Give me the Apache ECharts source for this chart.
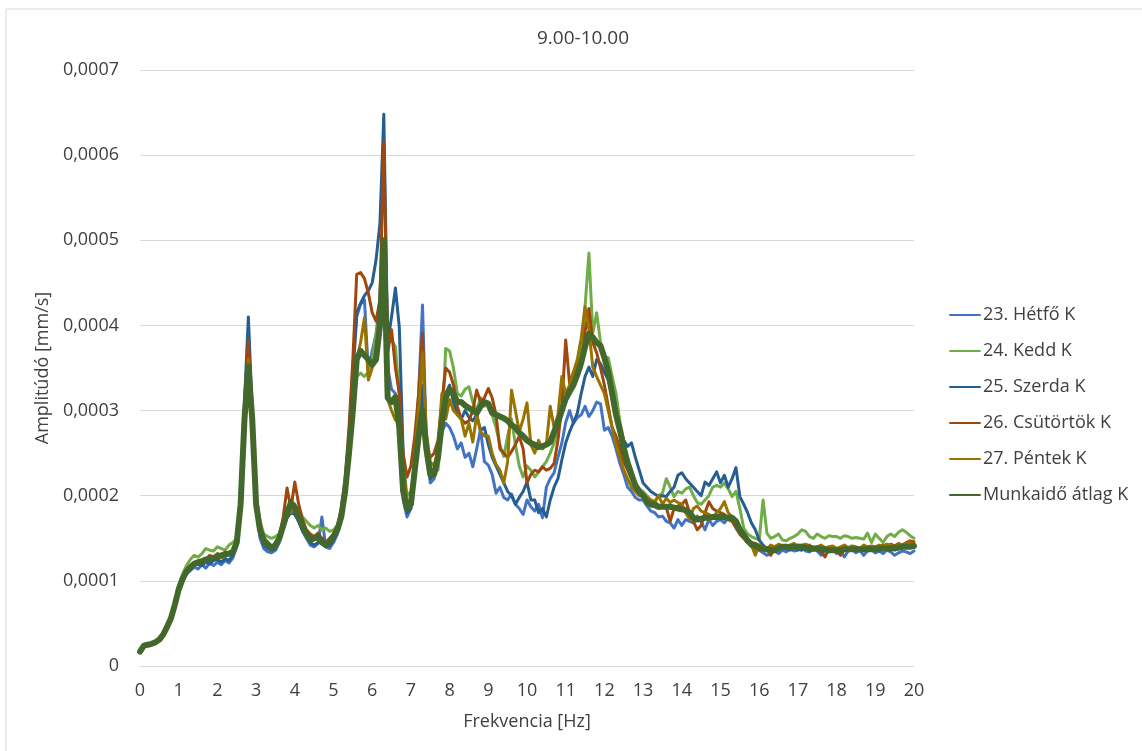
<!DOCTYPE html>
<html>
<head>
<meta charset="utf-8">
<title>9.00-10.00</title>
<script src="https://cdn.jsdelivr.net/npm/echarts@6/dist/echarts.min.js"></script>
<style>
    html, body {margin: 0; padding: 0; background: #fff;}
    #main {width: 1142px; height: 751px;}
</style>
</head>
<body>
<div id="main"></div>
<script>
//frekvencia [Hz], 0.1 lepes
var freq = [
    0, 0.1, 0.2, 0.3, 0.4, 0.5, 0.6, 0.7, 0.8, 0.9,
    1, 1.1, 1.2, 1.3, 1.4, 1.5, 1.6, 1.7, 1.8, 1.9,
    2, 2.1, 2.2, 2.3, 2.4, 2.5, 2.6, 2.7, 2.8, 2.9,
    3, 3.1, 3.2, 3.3, 3.4, 3.5, 3.6, 3.7, 3.8, 3.9,
    4, 4.1, 4.2, 4.3, 4.4, 4.5, 4.6, 4.7, 4.8, 4.9,
    5, 5.1, 5.2, 5.3, 5.4, 5.5, 5.6, 5.7, 5.8, 5.9,
    6, 6.1, 6.2, 6.3, 6.4, 6.5, 6.6, 6.7, 6.8, 6.9,
    7, 7.1, 7.2, 7.3, 7.4, 7.5, 7.6, 7.7, 7.8, 7.9,
    8, 8.1, 8.2, 8.3, 8.4, 8.5, 8.6, 8.7, 8.8, 8.9,
    9, 9.1, 9.2, 9.3, 9.4, 9.5, 9.6, 9.7, 9.8, 9.9,
    10, 10.1, 10.2, 10.3, 10.4, 10.5, 10.6, 10.7, 10.8, 10.9,
    11, 11.1, 11.2, 11.3, 11.4, 11.5, 11.6, 11.7, 11.8, 11.9,
    12, 12.1, 12.2, 12.3, 12.4, 12.5, 12.6, 12.7, 12.8, 12.9,
    13, 13.1, 13.2, 13.3, 13.4, 13.5, 13.6, 13.7, 13.8, 13.9,
    14, 14.1, 14.2, 14.3, 14.4, 14.5, 14.6, 14.7, 14.8, 14.9,
    15, 15.1, 15.2, 15.3, 15.4, 15.5, 15.6, 15.7, 15.8, 15.9,
    16, 16.1, 16.2, 16.3, 16.4, 16.5, 16.6, 16.7, 16.8, 16.9,
    17, 17.1, 17.2, 17.3, 17.4, 17.5, 17.6, 17.7, 17.8, 17.9,
    18, 18.1, 18.2, 18.3, 18.4, 18.5, 18.6, 18.7, 18.8, 18.9,
    19, 19.1, 19.2, 19.3, 19.4, 19.5, 19.6, 19.7, 19.8, 19.9,
    20
];

//amplitudo, 0,0001 mm/s egysegben
var hetfo = [
    0.17, 0.24, 0.25, 0.26, 0.28, 0.31, 0.37, 0.46, 0.56, 0.72,
    0.88, 1.00, 1.08, 1.12, 1.16, 1.14, 1.19, 1.15, 1.21, 1.18,
    1.22, 1.19, 1.24, 1.21, 1.27, 1.40, 1.85, 2.95, 3.62, 2.85,
    1.85, 1.50, 1.38, 1.34, 1.33, 1.36, 1.45, 1.62, 1.78, 1.86,
    1.80, 1.70, 1.58, 1.50, 1.42, 1.40, 1.44, 1.75, 1.40, 1.38,
    1.45, 1.55, 1.72, 2.05, 2.60, 3.40, 4.10, 4.25, 4.30, 3.45,
    3.70, 3.90, 4.30, 4.75, 3.50, 3.25, 3.20, 2.70, 1.95, 1.75,
    1.85, 2.40, 3.20, 4.24, 2.60, 2.15, 2.20, 2.40, 2.75, 2.85,
    2.80, 2.70, 2.55, 2.62, 2.45, 2.50, 2.34, 2.55, 2.78, 2.40,
    2.36, 2.25, 2.03, 2.10, 1.98, 1.95, 2.02, 1.90, 1.85, 1.78,
    1.95, 1.87, 1.82, 1.90, 1.74, 2.10, 2.20, 2.27, 2.45, 2.62,
    2.86, 3.00, 2.85, 2.92, 2.95, 3.05, 2.93, 3.00, 3.10, 3.08,
    2.77, 2.80, 2.70, 2.55, 2.38, 2.25, 2.10, 2.05, 1.98, 1.95,
    1.95, 1.88, 1.82, 1.80, 1.75, 1.76, 1.70, 1.68, 1.62, 1.72,
    1.65, 1.72, 1.70, 1.68, 1.76, 1.70, 1.60, 1.72, 1.65, 1.70,
    1.72, 1.68, 1.74, 1.70, 1.65, 1.55, 1.50, 1.45, 1.40, 1.37,
    1.36, 1.33, 1.30, 1.32, 1.35, 1.32, 1.36, 1.34, 1.38, 1.35,
    1.36, 1.40, 1.35, 1.34, 1.38, 1.35, 1.30, 1.36, 1.34, 1.38,
    1.32, 1.36, 1.28, 1.35, 1.37, 1.33, 1.36, 1.30, 1.35, 1.37,
    1.33, 1.35, 1.32, 1.36, 1.34, 1.30, 1.33, 1.35, 1.34, 1.32,
    1.35
];
var kedd = [
    0.17, 0.24, 0.25, 0.26, 0.28, 0.31, 0.37, 0.47, 0.58, 0.75,
    0.95, 1.08, 1.18, 1.25, 1.30, 1.28, 1.32, 1.38, 1.36, 1.35,
    1.40, 1.38, 1.36, 1.42, 1.45, 1.50, 1.90, 2.85, 3.40, 2.90,
    2.00, 1.70, 1.55, 1.52, 1.50, 1.52, 1.55, 1.70, 1.82, 1.90,
    1.88, 1.85, 1.75, 1.70, 1.65, 1.62, 1.65, 1.60, 1.62, 1.58,
    1.60, 1.65, 1.78, 2.10, 2.55, 3.00, 3.40, 3.44, 3.40, 3.45,
    3.60, 3.90, 4.10, 4.40, 3.80, 3.83, 3.75, 3.20, 2.40, 2.00,
    2.05, 2.30, 2.80, 3.20, 2.45, 2.25, 2.28, 2.30, 2.80, 3.73,
    3.70, 3.50, 3.20, 3.17, 3.25, 3.28, 3.10, 3.00, 3.15, 3.05,
    3.10, 2.95, 2.80, 2.60, 2.46, 2.70, 2.90, 2.60, 2.35, 2.22,
    2.35, 2.30, 2.22, 2.28, 2.34, 2.40, 2.50, 2.62, 2.80, 3.00,
    3.10, 3.20, 3.36, 3.50, 3.71, 4.22, 4.85, 3.91, 4.15, 3.80,
    3.63, 3.62, 3.40, 3.20, 2.87, 2.65, 2.45, 2.30, 2.15, 2.08,
    2.05, 2.00, 1.95, 1.92, 2.00, 2.03, 2.20, 2.10, 1.99, 2.05,
    2.03, 2.08, 2.10, 2.00, 1.92, 1.90, 1.95, 2.00, 2.10, 2.12,
    2.10, 2.15, 2.08, 1.99, 2.05, 1.85, 1.62, 1.55, 1.52, 1.50,
    1.48, 1.95, 1.56, 1.50, 1.52, 1.55, 1.48, 1.47, 1.50, 1.52,
    1.55, 1.60, 1.58, 1.52, 1.50, 1.55, 1.52, 1.50, 1.53, 1.52,
    1.52, 1.50, 1.53, 1.52, 1.50, 1.51, 1.50, 1.49, 1.56, 1.45,
    1.55, 1.50, 1.45, 1.52, 1.55, 1.52, 1.57, 1.60, 1.57, 1.53,
    1.50
];
var szerda = [
    0.17, 0.24, 0.25, 0.26, 0.28, 0.31, 0.37, 0.46, 0.56, 0.72,
    0.90, 1.03, 1.10, 1.15, 1.18, 1.20, 1.18, 1.22, 1.20, 1.24,
    1.25, 1.22, 1.26, 1.24, 1.30, 1.45, 1.95, 3.10, 4.10, 3.00,
    1.95, 1.55, 1.42, 1.38, 1.36, 1.38, 1.48, 1.62, 1.74, 1.80,
    1.78, 1.70, 1.60, 1.52, 1.45, 1.42, 1.45, 1.50, 1.40, 1.42,
    1.48, 1.58, 1.75, 2.10, 2.70, 3.50, 4.15, 4.26, 4.35, 4.41,
    4.50, 4.77, 5.20, 6.48, 3.80, 4.10, 4.44, 3.98, 2.50, 1.80,
    1.85, 2.25, 2.75, 3.30, 2.55, 2.20, 2.25, 2.40, 2.90, 3.20,
    3.30, 3.10, 2.95, 2.90, 3.00, 2.92, 2.88, 2.95, 2.77, 2.80,
    2.60, 2.45, 2.35, 2.25, 2.15, 2.05, 2.00, 1.90, 1.98, 2.05,
    2.16, 1.95, 1.95, 1.80, 1.85, 1.75, 1.95, 2.10, 2.20, 2.42,
    2.62, 2.75, 2.86, 2.97, 3.20, 3.40, 3.51, 3.40, 3.60, 3.55,
    3.45, 3.36, 3.20, 3.00, 2.80, 2.65, 2.58, 2.62, 2.45, 2.30,
    2.15, 2.10, 2.05, 2.02, 1.99, 2.00, 1.99, 2.05, 2.10, 2.24,
    2.27, 2.20, 2.15, 2.10, 2.05, 2.00, 2.16, 2.12, 2.20, 2.28,
    2.15, 2.24, 2.10, 2.20, 2.33, 1.99, 1.90, 1.80, 1.68, 1.60,
    1.48, 1.42, 1.38, 1.38, 1.36, 1.37, 1.40, 1.38, 1.36, 1.38,
    1.37, 1.36, 1.38, 1.35, 1.37, 1.36, 1.34, 1.37, 1.38, 1.36,
    1.35, 1.37, 1.36, 1.38, 1.36, 1.37, 1.35, 1.38, 1.36, 1.37,
    1.38, 1.36, 1.37, 1.39, 1.38, 1.36, 1.38, 1.40, 1.39, 1.40,
    1.40
];
var csutortok = [
    0.17, 0.24, 0.25, 0.26, 0.28, 0.31, 0.37, 0.46, 0.56, 0.72,
    0.90, 1.04, 1.12, 1.16, 1.19, 1.22, 1.21, 1.25, 1.30, 1.28,
    1.32, 1.30, 1.34, 1.32, 1.35, 1.48, 1.95, 3.05, 3.83, 3.00,
    1.95, 1.58, 1.46, 1.42, 1.40, 1.42, 1.52, 1.75, 2.09, 1.85,
    2.16, 1.90, 1.72, 1.60, 1.55, 1.52, 1.56, 1.50, 1.45, 1.50,
    1.55, 1.65, 1.85, 2.20, 2.80, 3.60, 4.60, 4.62, 4.55, 4.38,
    4.15, 4.05, 4.30, 6.15, 3.68, 3.95, 3.50, 3.20, 2.50, 2.22,
    2.35, 2.70, 3.20, 3.91, 2.57, 2.45, 2.50, 2.65, 3.10, 3.50,
    3.45, 3.30, 3.05, 2.90, 2.85, 2.88, 3.00, 3.24, 3.10, 3.15,
    3.26, 3.15, 2.95, 2.55, 2.50, 2.45, 2.52, 2.60, 2.70, 2.55,
    2.15, 2.25, 2.30, 2.28, 2.34, 2.30, 2.32, 2.38, 2.65, 3.05,
    3.83, 3.32, 3.45, 3.56, 3.50, 3.93, 4.20, 3.80, 3.68, 3.50,
    3.30, 3.05, 2.80, 2.70, 2.55, 2.40, 2.30, 2.20, 2.10, 2.02,
    2.00, 1.90, 1.88, 1.87, 1.85, 1.88, 1.86, 1.70, 1.85, 1.88,
    1.90, 1.95, 1.80, 1.70, 1.60, 1.65, 1.80, 1.93, 1.85, 1.82,
    1.80, 1.78, 1.72, 1.70, 1.62, 1.55, 1.50, 1.47, 1.45, 1.44,
    1.42, 1.40, 1.38, 1.30, 1.40, 1.42, 1.38, 1.40, 1.42, 1.40,
    1.42, 1.40, 1.38, 1.42, 1.36, 1.40, 1.35, 1.28, 1.38, 1.36,
    1.35, 1.30, 1.38, 1.36, 1.40, 1.38, 1.36, 1.38, 1.40, 1.38,
    1.40, 1.38, 1.42, 1.40, 1.43, 1.41, 1.44, 1.42, 1.45, 1.47,
    1.46
];
var pentek = [
    0.17, 0.24, 0.25, 0.26, 0.28, 0.31, 0.37, 0.46, 0.56, 0.72,
    0.90, 1.02, 1.10, 1.15, 1.18, 1.21, 1.22, 1.24, 1.25, 1.26,
    1.28, 1.27, 1.30, 1.30, 1.33, 1.45, 1.90, 2.95, 3.60, 2.90,
    1.90, 1.56, 1.45, 1.40, 1.38, 1.40, 1.50, 1.68, 1.85, 1.80,
    1.90, 1.78, 1.65, 1.56, 1.50, 1.48, 1.50, 1.46, 1.44, 1.48,
    1.52, 1.60, 1.75, 2.05, 2.55, 3.10, 3.60, 3.80, 4.09, 3.36,
    3.50, 3.70, 4.20, 5.00, 3.13, 3.00, 2.89, 2.85, 2.34, 1.95,
    1.90, 2.50, 3.00, 3.68, 2.74, 2.40, 2.35, 2.55, 3.20, 2.90,
    3.13, 3.00, 2.95, 2.90, 2.70, 2.85, 2.63, 2.95, 2.75, 2.70,
    2.70, 2.50, 2.37, 2.30, 2.15, 2.40, 3.24, 3.00, 2.75, 2.90,
    3.09, 2.60, 2.50, 2.65, 2.55, 2.60, 3.05, 2.80, 2.95, 3.40,
    3.20, 3.30, 3.45, 3.60, 3.85, 4.22, 3.95, 3.51, 3.40, 3.30,
    3.20, 3.00, 2.80, 2.60, 2.45, 2.30, 2.20, 2.10, 2.05, 2.00,
    2.00, 1.98, 1.95, 1.93, 2.00, 1.90, 1.97, 1.92, 1.95, 1.92,
    1.90, 1.80, 1.72, 1.85, 1.88, 1.82, 1.80, 1.78, 1.75, 1.80,
    1.85, 1.93, 1.80, 1.75, 1.70, 1.62, 1.55, 1.50, 1.42, 1.30,
    1.42, 1.40, 1.38, 1.42, 1.40, 1.43, 1.41, 1.40, 1.42, 1.44,
    1.40, 1.42, 1.43, 1.41, 1.38, 1.40, 1.42, 1.39, 1.40, 1.41,
    1.38, 1.40, 1.42, 1.39, 1.41, 1.40, 1.38, 1.42, 1.40, 1.41,
    1.40, 1.42, 1.41, 1.43, 1.42, 1.40, 1.43, 1.42, 1.44, 1.45,
    1.43
];
var atlag = [
    0.17, 0.24, 0.25, 0.26, 0.28, 0.31, 0.37, 0.46, 0.56, 0.72,
    0.90, 1.02, 1.11, 1.16, 1.20, 1.22, 1.23, 1.25, 1.26, 1.27,
    1.28, 1.30, 1.31, 1.32, 1.34, 1.45, 1.90, 2.90, 3.52, 2.90,
    1.90, 1.60, 1.48, 1.43, 1.39, 1.42, 1.50, 1.65, 1.80, 1.92,
    1.86, 1.75, 1.64, 1.55, 1.48, 1.50, 1.52, 1.45, 1.42, 1.46,
    1.52, 1.60, 1.75, 2.05, 2.50, 3.00, 3.60, 3.70, 3.65, 3.60,
    3.54, 3.60, 4.00, 5.00, 3.15, 3.10, 3.16, 2.80, 2.05, 1.85,
    1.90, 2.30, 2.70, 3.00, 2.55, 2.25, 2.25, 2.45, 2.85, 3.15,
    3.25, 3.20, 3.10, 3.10, 3.06, 3.03, 3.00, 2.97, 3.05, 3.10,
    3.08, 2.97, 2.95, 2.93, 2.91, 2.88, 2.83, 2.80, 2.74, 2.70,
    2.65, 2.62, 2.60, 2.57, 2.58, 2.60, 2.63, 2.75, 2.86, 3.00,
    3.14, 3.22, 3.30, 3.42, 3.56, 3.75, 3.90, 3.86, 3.80, 3.76,
    3.62, 3.45, 3.20, 2.95, 2.77, 2.55, 2.38, 2.25, 2.12, 2.05,
    2.00, 1.93, 1.90, 1.90, 1.87, 1.87, 1.87, 1.87, 1.86, 1.85,
    1.84, 1.83, 1.80, 1.74, 1.72, 1.73, 1.74, 1.74, 1.75, 1.75,
    1.75, 1.75, 1.74, 1.74, 1.70, 1.60, 1.54, 1.47, 1.43, 1.41,
    1.39, 1.38, 1.37, 1.36, 1.36, 1.38, 1.40, 1.40, 1.39, 1.40,
    1.40, 1.40, 1.39, 1.39, 1.38, 1.38, 1.37, 1.37, 1.36, 1.36,
    1.36, 1.36, 1.37, 1.37, 1.37, 1.37, 1.37, 1.37, 1.37, 1.37,
    1.37, 1.38, 1.38, 1.38, 1.38, 1.39, 1.39, 1.40, 1.40, 1.40,
    1.41
];

var seriesNames = ['23. Hétfő K', '24. Kedd K', '25. Szerda K', '26. Csütörtök K', '27. Péntek K', 'Munkaidő átlag K'];
var seriesValues = [hetfo, kedd, szerda, csutortok, pentek, atlag];
var seriesColors = ['#4472C4', '#70AD47', '#255E91', '#9E480E', '#997300', '#43682B'];
var seriesWidths = [3, 3, 3, 3, 3, 6];

var font = '"Open Sans", "DejaVu Sans", sans-serif';
var textColor = '#404040';

//(x, y) parok osszeallitasa
function pairs(values) {
    var data = [];
    for (var i = 0; i < values.length; i++) {
        data.push([freq[i], values[i]]);
    }
    return data;
}

var series = [];
for (var s = 0; s < seriesNames.length; s++) {
    series.push({
        name: seriesNames[s],
        type: 'line',
        data: pairs(seriesValues[s]),
        symbol: 'none',
        smooth: false,
        animation: false,
        color: seriesColors[s],
        lineStyle: {width: seriesWidths[s], color: seriesColors[s], cap: 'round', join: 'round'}
    });
}

var myChart = echarts.init(document.getElementById('main'), null, {renderer: 'canvas'});
var option = {
    backgroundColor: '#ffffff',
    animation: false,
    title: {
        text: '9.00-10.00',
        left: 578,
        top: 24,
        textAlign: 'center',
        textStyle: {fontFamily: font, fontSize: 19, fontWeight: 'normal', color: textColor}
    },
    graphic: [{
        type: 'rect',
        shape: {x: 6, y: 9, width: 1200, height: 800},
        style: {fill: 'none', stroke: '#d9d9d9', lineWidth: 1},
        silent: true
    }],
    grid: {left: 140, right: 228, top: 70, bottom: 85, containLabel: false},
    legend: {
        orient: 'vertical',
        left: 944,
        top: 301,
        itemGap: 18,
        itemWidth: 30,
        itemHeight: 14,
        data: seriesNames,
        itemStyle: {opacity: 0},
        textStyle: {fontFamily: font, fontSize: 18, color: textColor, padding: [0, 0, 0, -2]}
    },
    xAxis: {
        type: 'value',
        min: 0,
        max: 20,
        interval: 1,
        name: 'Frekvencia [Hz]',
        nameLocation: 'middle',
        nameGap: 47,
        nameTextStyle: {fontFamily: font, fontSize: 18, color: textColor},
        axisLine: {show: true, lineStyle: {color: '#d9d9d9', width: 1}},
        axisTick: {show: false},
        splitLine: {show: false},
        axisLabel: {fontFamily: font, fontSize: 18, color: textColor, margin: 16}
    },
    yAxis: {
        type: 'value',
        min: 0,
        max: 7,
        interval: 1,
        name: 'Amplitúdó [mm/s]',
        nameLocation: 'middle',
        nameRotate: 90,
        nameGap: 88,
        nameTextStyle: {fontFamily: font, fontSize: 18, color: textColor},
        axisLine: {show: false},
        axisTick: {show: false},
        splitLine: {lineStyle: {color: '#d9d9d9', width: 1}},
        axisLabel: {
            fontFamily: font, fontSize: 18, color: textColor, margin: 21,
            formatter: function (value) {
                return value === 0 ? '0' : '0,000' + value;
            }
        }
    },
    series: series
};

myChart.setOption(option);
</script>
</body>
</html>
